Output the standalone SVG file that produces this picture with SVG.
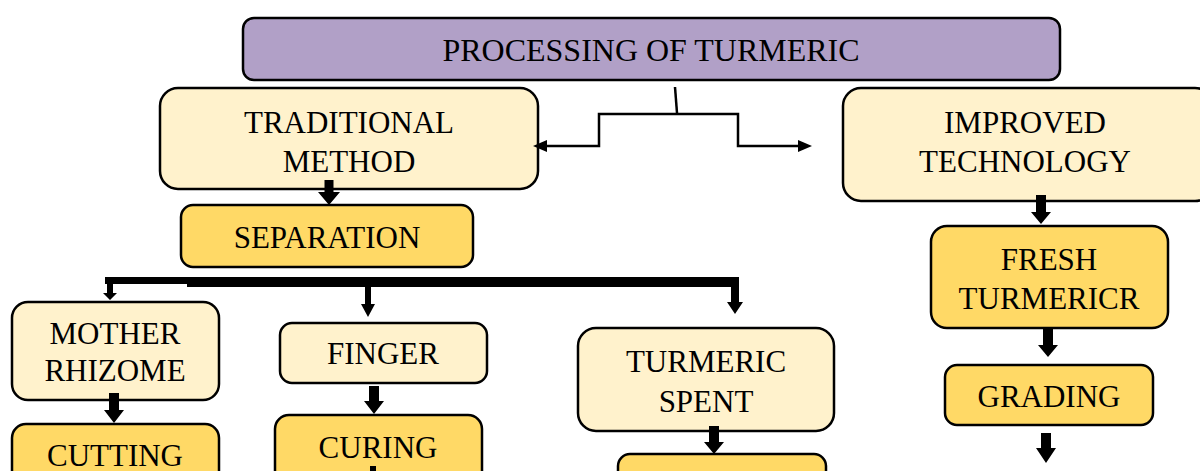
<svg xmlns="http://www.w3.org/2000/svg" width="1200" height="471" viewBox="0 0 1200 471">
<style>
.box{stroke:#000;stroke-width:2.5}
.light{fill:#fff2cc}
.gold{fill:#ffd966}
.title{fill:#b1a0c7}
text{font-family:"Liberation Serif","Times New Roman",serif;font-size:31px;fill:#000;text-anchor:middle}
.thin{fill:none;stroke:#000;stroke-width:2.5}
.blk{fill:#000}
</style>
<g id="title">
<rect class="box title" x="243" y="18" width="817" height="62" rx="11"/>
<text x="651" y="61" font-size="34" textLength="417" lengthAdjust="spacingAndGlyphs">PROCESSING OF TURMERIC</text>
</g>
<g id="traditional">
<rect class="box light" x="160" y="88" width="378" height="101" rx="18"/>
<text x="349" y="133">TRADITIONAL</text>
<text x="349" y="172">METHOD</text>
</g>
<g id="improved">
<rect class="box light" x="843" y="88" width="370" height="113" rx="18"/>
<text x="1025" y="133">IMPROVED</text>
<text x="1025" y="172">TECHNOLOGY</text>
</g>
<g id="separation">
<rect class="box gold" x="181" y="205" width="292" height="62" rx="12"/>
<text x="327" y="248">SEPARATION</text>
</g>
<g id="mother-rhizome">
<rect class="box light" x="12" y="302" width="207" height="98" rx="16"/>
<text x="115" y="344" font-size="29">MOTHER</text>
<text x="115" y="381" font-size="29">RHIZOME</text>
</g>
<g id="cutting">
<rect class="box gold" x="12" y="424" width="207" height="70" rx="14"/>
<text x="115" y="466">CUTTING</text>
</g>
<g id="finger">
<rect class="box light" x="280" y="323" width="207" height="60" rx="12"/>
<text x="383" y="364">FINGER</text>
</g>
<g id="curing">
<rect class="box gold" x="275" y="415" width="207" height="80" rx="14"/>
<text x="378" y="458">CURING</text>
</g>
<g id="turmeric-spent">
<rect class="box light" x="578" y="328" width="256" height="103" rx="18"/>
<text x="706" y="372">TURMERIC</text>
<text x="706" y="412">SPENT</text>
</g>
<g id="spent-next">
<rect class="box gold" x="618" y="454" width="208" height="40" rx="12"/>
</g>
<g id="fresh-turmeric">
<rect class="box gold" x="931" y="226" width="237" height="102" rx="16"/>
<text x="1049" y="270">FRESH</text>
<text x="1049" y="309">TURMERICR</text>
</g>
<g id="grading">
<rect class="box gold" x="945" y="365" width="208" height="60" rx="12"/>
<text x="1049" y="407">GRADING</text>
</g>
<g id="connectors">
<path class="thin" d="M675,87 L677,113"/>
<path class="thin" d="M545,146 L599,146 L599,114 L738,114 L738,146 L800,146"/>
<polygon class="blk" points="533,146 547,140 547,152"/>
<polygon class="blk" points="812,146 798,140 798,152"/>
<polygon class="blk" points="324.5,180 333.5,180 333.5,192 340,192 329,205 318,192 324.5,192"/>
<rect class="blk" x="105" y="277" width="85" height="7"/>
<rect class="blk" x="187" y="277" width="552" height="10"/>
<polygon class="blk" points="107,277 113,277 113,293 117,293 110,300 103,293 107,293"/>
<polygon class="blk" points="365,285 371,285 371,304 375,304 368,317 361,304 365,304"/>
<polygon class="blk" points="731,277 739,277 739,302 743,302 735,314 727,302 731,302"/>
<polygon class="blk" points="109,393 119,393 119,410 124,410 114,423 104,410 109,410"/>
<polygon class="blk" points="369,386 379,386 379,401 384,401 374,414 364,401 369,401"/>
<rect class="blk" x="370" y="466" width="6" height="5"/>
<polygon class="blk" points="709,426 719,426 719,442 724,442 714,454 704,442 709,442"/>
<polygon class="blk" points="1036,195 1046,195 1046,212 1051,212 1041,224 1031,212 1036,212"/>
<polygon class="blk" points="1043,328 1053,328 1053,345 1058,345 1048,357 1038,345 1043,345"/>
<polygon class="blk" points="1041,433 1051,433 1051,448 1056,448 1046,463 1036,448 1041,448"/>
</g>
</svg>
